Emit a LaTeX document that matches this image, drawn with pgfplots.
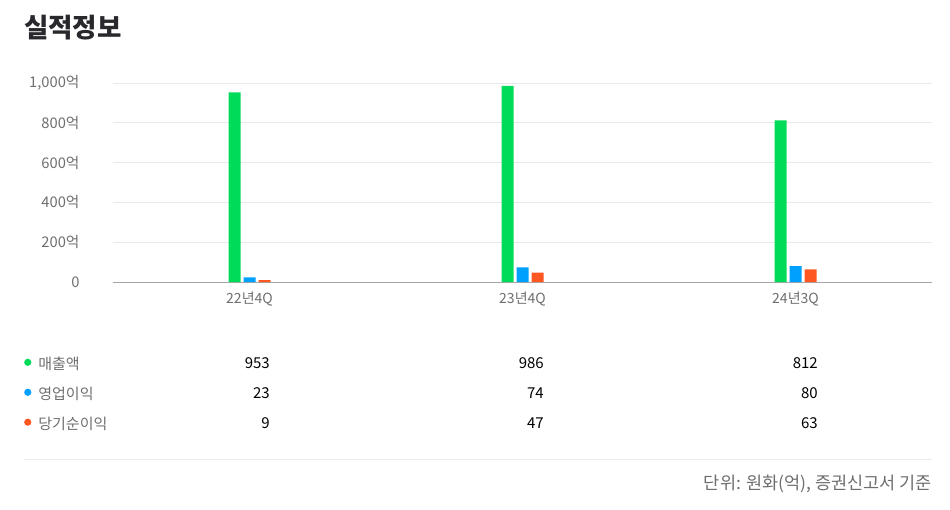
\documentclass[border=0pt]{standalone}
\usepackage{fontspec}
\setmainfont{Noto Sans CJK KR}
\usepackage{pgfplots}
\pgfplotsset{compat=1.18}
\usepackage{pgfplotstable}

\definecolor{sales}{RGB}{0,220,90}
\definecolor{oper}{RGB}{0,160,255}
\definecolor{net}{RGB}{255,87,34}
\definecolor{txtgray}{RGB}{110,110,110}
\definecolor{titlec}{RGB}{40,40,45}
\definecolor{gridc}{RGB}{232,232,238}

\pgfplotstableread{
x  q       sales op net
0  22년4Q  953   23 9
1  23년4Q  986   74 47
2  24년3Q  812   80 63
}\fin

\begin{document}
\begin{tikzpicture}[x=1pt,y=1pt]
\path[use as bounding box] (0,0) rectangle (950,509);

% title
\node[anchor=west,inner sep=0pt,font=\fontsize{26.5}{29}\selectfont\bfseries,text=titlec] at (24,481) {실적정보};

\begin{axis}[
  at={(113pt,227pt)}, anchor=south west,
  scale only axis, width=819pt, height=199pt,
  ybar=3pt, bar width=12pt,
  xmin=-0.5, xmax=2.5, ymin=0, ymax=1000,
  xtick=data, xticklabels from table={\fin}{q},
  ytick={0,200,400,600,800,1000},
  yticklabels={0,200억,400억,600억,800억,{1,000억}},
  axis x line*=bottom, axis y line*=left,
  x axis line style={draw=black!35, line width=0.8pt, -},
  y axis line style={draw=none},
  major tick length=0pt,
  ymajorgrids, grid style={gridc, line width=0.8pt},
  tick label style={font=\fontsize{14}{16}\selectfont, text=txtgray},
  yticklabel style={xshift=-30pt, font=\fontsize{14.7}{16}\selectfont},
  xticklabel style={yshift=-6pt},
  /pgf/number format/assume math mode=true,
  legend style={at={(-0.1087,-0.365)}, anchor=north west, draw=none, fill=none,
    font=\fontsize{15}{17}\selectfont, text=txtgray, row sep=12pt, column sep=5pt,
    legend cell align=left, inner sep=0pt},
  legend image code/.code={\fill (3pt,1.5pt) circle (3.6pt);},
]
\addplot[fill=sales, draw=none] table[x=x, y=sales] {\fin};
\addplot[fill=oper, draw=none] table[x=x, y=op] {\fin};
\addplot[fill=net, draw=none] table[x=x, y=net] {\fin};
\legend{매출액,영업이익,당기순이익}
\end{axis}

% table values
\begin{scope}[every node/.style={anchor=east, inner sep=0pt, font=\fontsize{15}{17}\selectfont, text=black}]
\node at (270,146) {953}; \node at (544,146) {986}; \node at (818,146) {812};
\node at (270,116) {23};  \node at (544,116) {74};  \node at (818,116) {80};
\node at (270,86)  {9};   \node at (544,86)  {47};  \node at (818,86)  {63};
\end{scope}

\draw[black!8, line width=0.8pt] (24,50) -- (932,50);
\node[anchor=east, inner sep=0pt, font=\fontsize{17.5}{20}\selectfont, text=txtgray] at (932,25) {단위: 원화(억), 증권신고서 기준};
\end{tikzpicture}
\end{document}
